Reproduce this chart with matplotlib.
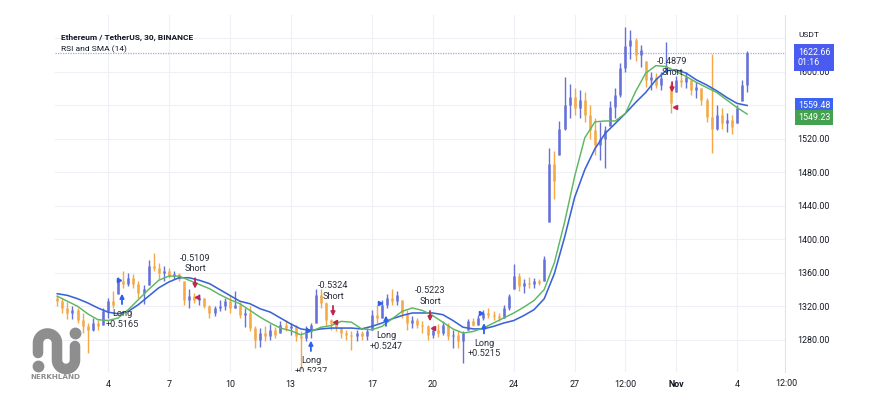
import numpy as np
import matplotlib
matplotlib.use("Agg")
import matplotlib.pyplot as plt
from matplotlib.lines import Line2D

plt.rcParams['font.family'] = ['Roboto', 'DejaVu Sans']

# ETH/USDT, one bar every 6 hours (day of October, Nov 1 = 32)
bar_days = np.arange(1.5, 35.75, 0.25)
highs = [1333, 1330,
         1325, 1320, 1318, 1312,
         1300, 1306, 1304, 1318,
         1330, 1338, 1355, 1362,
         1360, 1358, 1350, 1345,
         1375, 1383, 1372, 1368,
         1366, 1362, 1360, 1350,
         1340, 1336, 1335, 1330,
         1322, 1320, 1328, 1330,
         1334, 1338, 1325, 1318,
         1320, 1296, 1294, 1296,
         1299, 1295, 1302, 1304,
         1300, 1298, 1290, 1296,
         1300, 1340, 1340, 1325,
         1305, 1304, 1295, 1292,
         1290, 1292, 1290, 1294,
         1315, 1322, 1327, 1335,
         1340, 1338, 1328, 1315,
         1308, 1306, 1302, 1298,
         1296, 1299, 1302, 1300,
         1292, 1290, 1290, 1305,
         1306, 1310, 1316, 1318,
         1314, 1312, 1322, 1335,
         1370, 1360, 1352, 1355,
         1354, 1352, 1380, 1509,
         1505, 1541, 1593, 1585,
         1580, 1578, 1575, 1560,
         1545, 1540, 1535, 1565,
         1580, 1610, 1653, 1650,
         1640, 1632, 1612, 1600,
         1598, 1600, 1635, 1585,
         1595, 1602, 1600, 1590,
         1588, 1580, 1569, 1621,
         1560, 1557, 1550, 1548,
         1560, 1590, 1625]
lows = [1320, 1312,
        1305, 1305, 1300, 1288,
        1264, 1290, 1292, 1298,
        1306, 1318, 1335, 1342,
        1344, 1342, 1330, 1323,
        1345, 1362, 1352, 1350,
        1354, 1352, 1350, 1322,
        1318, 1324, 1322, 1318,
        1306, 1308, 1314, 1316,
        1312, 1318, 1306, 1295,
        1290, 1270, 1272, 1278,
        1280, 1282, 1288, 1290,
        1286, 1278, 1245, 1278,
        1282, 1300, 1318, 1298,
        1292, 1290, 1282, 1280,
        1268, 1278, 1280, 1280,
        1292, 1300, 1306, 1318,
        1322, 1322, 1306, 1292,
        1294, 1294, 1288, 1280,
        1282, 1283, 1286, 1280,
        1270, 1270, 1252, 1292,
        1296, 1298, 1304, 1306,
        1304, 1303, 1306, 1315,
        1340, 1338, 1336, 1342,
        1342, 1345, 1350, 1420,
        1448, 1500, 1530, 1545,
        1548, 1545, 1540, 1520,
        1500, 1495, 1485, 1535,
        1545, 1570, 1600, 1615,
        1612, 1605, 1582, 1578,
        1580, 1578, 1600, 1550,
        1575, 1582, 1580, 1572,
        1568, 1560, 1540, 1503,
        1530, 1532, 1528, 1525,
        1538, 1565, 1575]
closes = [1326, 1318,
          1312, 1316, 1304, 1296,
          1292, 1300, 1296, 1314,
          1326, 1322, 1350, 1346,
          1354, 1346, 1336, 1340,
          1368, 1366, 1360, 1362,
          1356, 1358, 1352, 1328,
          1332, 1328, 1330, 1320,
          1312, 1318, 1320, 1326,
          1318, 1322, 1310, 1312,
          1294, 1280, 1288, 1284,
          1292, 1286, 1298, 1294,
          1296, 1284, 1282, 1290,
          1298, 1334, 1324, 1304,
          1300, 1294, 1288, 1286,
          1284, 1288, 1284, 1290,
          1310, 1306, 1322, 1330,
          1326, 1334, 1312, 1300,
          1304, 1298, 1296, 1286,
          1292, 1288, 1298, 1284,
          1286, 1278, 1288, 1302,
          1298, 1306, 1312, 1310,
          1308, 1306, 1318, 1332,
          1356, 1344, 1348, 1346,
          1350, 1348, 1376, 1490,
          1470, 1532, 1560, 1570,
          1556, 1566, 1548, 1530,
          1512, 1520, 1530, 1558,
          1572, 1604, 1630, 1638,
          1620, 1626, 1590, 1594,
          1584, 1592, 1606, 1562,
          1590, 1588, 1594, 1578,
          1582, 1566, 1546, 1532,
          1548, 1538, 1542, 1534,
          1556, 1584, 1622.66]

# moving averages, read every half day
ma_days = np.arange(1.5, 36.0, 0.5)
sma_fast = [1332, 1326, 1320, 1311, 1304, 1303, 1306, 1316, 1328, 1340,
            1351, 1356, 1356, 1351, 1346, 1341, 1334, 1328, 1323, 1315,
            1307, 1300, 1294, 1291, 1286, 1290, 1295, 1297, 1302, 1301,
            1293, 1292, 1296, 1305, 1314, 1318, 1315, 1309, 1301, 1293,
            1288, 1290, 1294, 1300, 1306, 1312, 1319, 1327, 1340, 1372,
            1420, 1475, 1521, 1540, 1541, 1541, 1550, 1576, 1598, 1607,
            1606, 1600, 1594, 1587, 1581, 1575, 1566, 1557, 1549.23]
sma_slow = [1335, 1333, 1329, 1324, 1318, 1313, 1311, 1314, 1322, 1332,
            1342, 1349, 1354, 1354, 1351, 1347, 1340, 1333, 1326, 1323,
            1317, 1313, 1306, 1299, 1293, 1291, 1293, 1294, 1294, 1294,
            1293, 1296, 1300, 1305, 1309, 1312, 1312, 1312, 1310, 1303,
            1295, 1293, 1293, 1296, 1300, 1303, 1309, 1316, 1329, 1359,
            1402, 1450, 1483, 1508, 1526, 1538, 1550, 1563, 1575, 1590,
            1601, 1602, 1598, 1590, 1584, 1577, 1569, 1562, 1559.48]

# strategy signals
sig_days = [4.69, 8.29, 14.0, 15.09, 17.70, 19.87, 22.53, 31.80]
sig_kind = ['Long', 'Short', 'Long', 'Short', 'Long', 'Short', 'Long', 'Short']
sig_price = [1335, 1341, 1279, 1308, 1309, 1302, 1300, 1575]
sig_text = ['+0.5165', '-0.5109', '+0.5237', '-0.5324', '+0.5247', '-0.5223', '+0.5215', '-0.4879']

# small fill markers
entry_days = [4.54, 13.86, 17.41, 22.38]
entry_price = [1351, 1292, 1324, 1312]
exit_days = [8.39, 15.19, 20.02, 31.94]
exit_price = [1331, 1301, 1294, 1558]

last_price = 1622.66
countdown = "01:16"

tick_days = [4, 7, 10, 13, 17, 20, 24, 27, 29.5, 32, 35]
tick_labels = ['4', '7', '10', '13', '17', '20', '24', '27', '12:00', 'Nov', '4']

W, H = 890, 420
fig = plt.figure(figsize=(W / 100, H / 100), dpi=100)
ax = fig.add_axes([55 / W, 1 - 372 / H, 730 / W, 357 / H])

# candles: open = previous close kept inside the bar range
closes_a = np.array(closes, dtype=float)
opens = np.clip(np.concatenate([[1330.0], closes_a[:-1]]), lows, highs)
cols = np.where(closes_a >= opens, '#6570d8', '#f4a846')
ax.vlines(bar_days, lows, highs, colors=cols, lw=1.0, zorder=2)
ax.vlines(bar_days, opens, closes_a, colors=cols, lw=1.8, zorder=2)

ax.plot(ma_days, sma_slow, color='#3b63d6', lw=1.15, zorder=3)
ax.plot(ma_days, sma_fast, color='#5db760', lw=1.05, zorder=3)

ax.axhline(last_price, color='#9ea6f2', lw=0.9, ls=(0, (1, 1)), zorder=1)

# signals
for d, k, p, t in zip(sig_days, sig_kind, sig_price, sig_text):
    if k == 'Long':
        c, s = '#2d5ff0', -1
    else:
        c, s = '#c0254e', 1
    ax.annotate('', xy=(d, p), xytext=(0, 7.5 * s), textcoords='offset points',
                arrowprops=dict(arrowstyle='-|>', color=c, lw=1.3, mutation_scale=6,
                                shrinkA=0, shrinkB=0), annotation_clip=False)
    ax.annotate(k, xy=(d, p), xytext=(0, 14.5 * s), textcoords='offset points',
                ha='center', va='center', fontsize=6.6, color='#2a2e39', clip_on=True)
    ax.annotate(t, xy=(d, p), xytext=(0, 22 * s), textcoords='offset points',
                ha='center', va='center', fontsize=6.6, color='#2a2e39', clip_on=True)
ax.plot(entry_days, entry_price, '>', color='#2d5ff0', ms=3, zorder=4)
ax.plot(exit_days, exit_price, '<', color='#c0254e', ms=3, zorder=4)

ax.set_xlim(1.388, 37.366)
ax.set_ylim(1241.6, 1667.4)

for side in ['top', 'left', 'bottom']:
    ax.spines[side].set_visible(False)
ax.spines['right'].set_color('#e0e3eb')
ax.spines['right'].set_linewidth(0.8)

ax.yaxis.tick_right()
yt = list(range(1280, 1641, 40))
ax.set_yticks(yt)
ax.set_yticklabels([f"{v:.2f}" if v < 1640 else '' for v in yt])
ax.tick_params(axis='y', length=0, labelsize=6.4, colors='#131722', pad=9)
ax.set_xticks(tick_days)
ax.set_xticklabels(tick_labels)
ax.tick_params(axis='x', length=0, labelsize=6.4, colors='#131722', pad=6)
for lab in ax.get_xticklabels():
    if lab.get_text() == 'Nov':
        lab.set_fontweight('bold')
ax.text(37.45, 1241.6 - 7.5 / 0.8385, '12:00', ha='center', va='top',
        fontsize=6.4, color='#131722', clip_on=False)
ax.grid(color='#eef0f6', lw=0.8)
ax.set_axisbelow(True)

# price scale labels
ytr = ax.get_yaxis_transform()
lx = (798 - 55) / 730
ax.annotate(f"{last_price:.2f}\n{countdown}", xy=(lx, last_price), xycoords=ytr,
            xytext=(0, -3.6), textcoords='offset points', va='center', ha='left',
            fontsize=6.4, color='white', linespacing=1.05,
            bbox=dict(boxstyle='square,pad=0.45', fc='#4a5bf0', ec='none'),
            annotation_clip=False)
ax.annotate(f"{sma_slow[-1]:.2f}", xy=(lx, sma_slow[-1]), xycoords=ytr,
            xytext=(0, 0), textcoords='offset points', va='center', ha='left',
            fontsize=6.4, color='white',
            bbox=dict(boxstyle='square,pad=0.35', fc='#3c63f2', ec='none'),
            annotation_clip=False)
ax.annotate(f"{sma_fast[-1]:.2f}", xy=(lx, sma_fast[-1]), xycoords=ytr,
            xytext=(0, -2.6), textcoords='offset points', va='center', ha='left',
            fontsize=6.4, color='white',
            bbox=dict(boxstyle='square,pad=0.35', fc='#43a24f', ec='none'),
            annotation_clip=False)

# header
fig.text(61 / W, 1 - 37 / H, "Ethereum / TetherUS, 30, BINANCE", fontsize=6.0,
         fontweight='bold', color='#131722', va='center')
fig.text(61 / W, 1 - 49.5 / H, "RSI and SMA (14)", fontsize=6.0,
         color='#131722', va='center')
fig.text(798 / W, 1 - 35 / H, "USDT", fontsize=6.0, color='#131722', va='center')

# watermark logo
def px(x, y):
    return x / W, 1 - y / H

t = np.linspace(np.pi, 0, 30)
arch_x = list(47.5 + 9.5 * np.cos(t))
arch_y = list(343 - 9.5 * np.sin(t))
s = np.linspace(0, np.pi, 30)
u_x = list(66 - 9 * np.cos(s))
u_y = list(360 + 9 * np.sin(s))
xs = [38] + arch_x + [57] + u_x + [75]
ys = [353] + arch_y + [356] + u_y + [346]
fx, fy = zip(*[px(a, b) for a, b in zip(xs, ys)])
gray = '#8e8e8e'
fig.add_artist(Line2D(fx, fy, transform=fig.transFigure, color=gray, lw=7.6,
                      solid_capstyle='round', solid_joinstyle='round', zorder=10))
for dx, dy in [(38, 366), (74.5, 333)]:
    a, b = px(dx, dy)
    fig.add_artist(Line2D([a], [b], transform=fig.transFigure, marker='o', ms=7.5,
                          color=gray, zorder=10))
fig.text(55.5 / W, 1 - 377 / H, "NERKHLAND", fontsize=5.2, fontweight='bold',
         color=gray, ha='center', va='center', family='DejaVu Sans', zorder=10)

fig.savefig("out.png", dpi=100, facecolor='white')
